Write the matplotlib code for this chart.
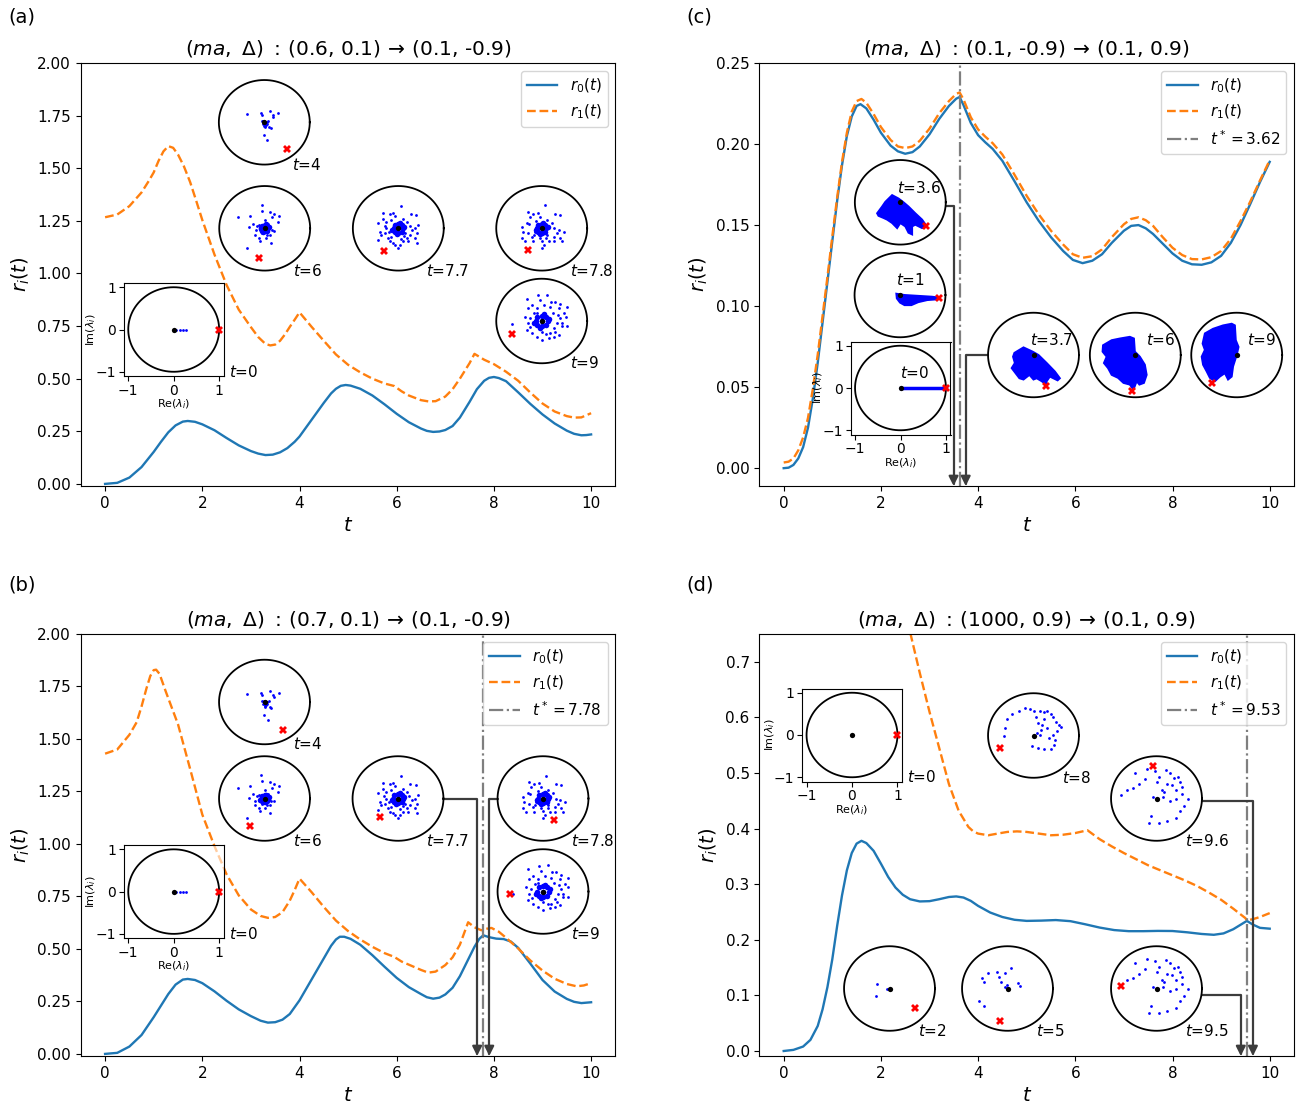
import numpy as np
import matplotlib
matplotlib.use("Agg")
import matplotlib.pyplot as plt

# ---------------- curve data: (t, r) pairs ----------------
a_r0 = [(0, 0), (0.25, 0.005), (0.5, 0.03), (0.75, 0.08), (1.0, 0.152), (1.15, 0.2), (1.3, 0.245), (1.45, 0.278),
        (1.6, 0.296), (1.7, 0.299), (1.85, 0.295), (2.0, 0.283), (2.25, 0.255), (2.5, 0.218), (2.75, 0.183),
        (3.0, 0.156), (3.15, 0.144), (3.3, 0.137), (3.45, 0.139), (3.6, 0.15), (3.75, 0.17), (3.9, 0.2), (4.0, 0.225),
        (4.25, 0.305), (4.5, 0.385), (4.65, 0.43), (4.75, 0.452), (4.85, 0.466), (4.95, 0.47), (5.05, 0.467),
        (5.25, 0.452), (5.5, 0.42), (5.75, 0.378), (6.0, 0.333), (6.25, 0.293), (6.5, 0.263), (6.62, 0.252),
        (6.75, 0.247), (6.88, 0.249), (7.0, 0.256), (7.15, 0.275), (7.3, 0.315), (7.5, 0.39), (7.65, 0.45),
        (7.8, 0.49), (7.9, 0.504), (8.0, 0.508), (8.1, 0.503), (8.25, 0.488), (8.5, 0.435), (8.75, 0.38),
        (9.0, 0.33), (9.25, 0.287), (9.5, 0.253), (9.65, 0.238), (9.8, 0.231), (9.9, 0.232), (10.0, 0.235)]
a_r1 = [(0, 1.267), (0.25, 1.28), (0.5, 1.32), (0.75, 1.385), (0.9, 1.44), (1.0, 1.48), (1.1, 1.535), (1.2, 1.58),
        (1.3, 1.605), (1.4, 1.597), (1.5, 1.565), (1.62, 1.51), (1.75, 1.434), (1.875, 1.345), (2.0, 1.254),
        (2.25, 1.09), (2.5, 0.945), (2.75, 0.828), (3.0, 0.745), (3.15, 0.698), (3.3, 0.665), (3.4, 0.658),
        (3.5, 0.662), (3.6, 0.68), (3.7, 0.71), (3.8, 0.746), (3.9, 0.78), (4.0, 0.815), (4.25, 0.746), (4.5, 0.68),
        (4.75, 0.615), (5.0, 0.566), (5.25, 0.53), (5.5, 0.50), (5.75, 0.477), (5.95, 0.465), (6.1, 0.44),
        (6.25, 0.42), (6.5, 0.398), (6.65, 0.392), (6.8, 0.393), (7.0, 0.415), (7.15, 0.45), (7.3, 0.5),
        (7.5, 0.574), (7.6, 0.618), (7.8, 0.59), (8.0, 0.569), (8.25, 0.533), (8.5, 0.49), (8.75, 0.434),
        (9.0, 0.382), (9.25, 0.344), (9.5, 0.322), (9.65, 0.315), (9.8, 0.316), (10.0, 0.336)]

b_r0 = [(0, 0), (0.25, 0.005), (0.5, 0.035), (0.75, 0.09), (1.0, 0.175), (1.15, 0.23), (1.3, 0.285), (1.45, 0.33),
        (1.6, 0.354), (1.7, 0.357), (1.85, 0.352), (2.0, 0.337), (2.25, 0.298), (2.5, 0.253), (2.75, 0.212),
        (3.0, 0.18), (3.2, 0.158), (3.35, 0.149), (3.5, 0.151), (3.65, 0.163), (3.8, 0.19), (4.0, 0.255),
        (4.25, 0.355), (4.5, 0.455), (4.65, 0.515), (4.75, 0.545), (4.83, 0.558), (4.92, 0.558), (5.05, 0.548),
        (5.25, 0.52), (5.5, 0.47), (5.75, 0.415), (6.0, 0.362), (6.25, 0.318), (6.5, 0.285), (6.62, 0.27),
        (6.75, 0.263), (6.88, 0.268), (7.0, 0.283), (7.15, 0.315), (7.3, 0.37), (7.45, 0.44), (7.6, 0.51),
        (7.7, 0.548), (7.78, 0.565), (7.9, 0.556), (8.05, 0.549), (8.2, 0.547), (8.35, 0.535), (8.5, 0.505),
        (8.75, 0.43), (9.0, 0.352), (9.25, 0.297), (9.5, 0.262), (9.65, 0.248), (9.8, 0.242), (10.0, 0.246)]
b_r1 = [(0, 1.43), (0.25, 1.45), (0.5, 1.52), (0.65, 1.58), (0.75, 1.655), (0.85, 1.74), (0.93, 1.8), (1.0, 1.828),
        (1.05, 1.83), (1.12, 1.81), (1.25, 1.725), (1.5, 1.57), (1.75, 1.357), (2.0, 1.14), (2.25, 0.99),
        (2.5, 0.855), (2.75, 0.755), (3.0, 0.688), (3.2, 0.657), (3.35, 0.648), (3.5, 0.652), (3.65, 0.675),
        (3.8, 0.73), (3.9, 0.78), (4.0, 0.835), (4.25, 0.77), (4.5, 0.70), (4.75, 0.635), (5.0, 0.585),
        (5.25, 0.545), (5.5, 0.51), (5.75, 0.48), (5.95, 0.462), (6.1, 0.44), (6.25, 0.425), (6.5, 0.40),
        (6.65, 0.387), (6.8, 0.392), (7.0, 0.423), (7.15, 0.46), (7.3, 0.52), (7.47, 0.627), (7.6, 0.603),
        (7.74, 0.589), (7.85, 0.596), (7.95, 0.6), (8.1, 0.582), (8.25, 0.553), (8.5, 0.502), (8.75, 0.445),
        (9.0, 0.397), (9.25, 0.358), (9.5, 0.333), (9.7, 0.322), (9.85, 0.326), (10.0, 0.337)]

c_r0 = [(0, 0), (0.1, 0.0003), (0.2, 0.002), (0.3, 0.006), (0.4, 0.013), (0.5, 0.025), (0.6, 0.043), (0.7, 0.065),
        (0.8, 0.09), (0.9, 0.115), (1.0, 0.14), (1.1, 0.165), (1.2, 0.187), (1.3, 0.205), (1.4, 0.217),
        (1.5, 0.2235), (1.58, 0.2246), (1.7, 0.222), (1.85, 0.215), (2.0, 0.207), (2.2, 0.199), (2.35, 0.1955),
        (2.5, 0.194), (2.65, 0.195), (2.8, 0.1985), (3.0, 0.206), (3.2, 0.2155), (3.4, 0.2235), (3.55, 0.228),
        (3.62, 0.229), (3.7, 0.224), (3.85, 0.213), (4.0, 0.2055), (4.15, 0.201), (4.3, 0.197), (4.5, 0.1896),
        (4.75, 0.177), (5.0, 0.164), (5.25, 0.1525), (5.5, 0.1425), (5.75, 0.134), (5.95, 0.1285), (6.15, 0.1265),
        (6.35, 0.128), (6.55, 0.132), (6.75, 0.139), (7.0, 0.1465), (7.15, 0.1495), (7.3, 0.150), (7.45, 0.148),
        (7.6, 0.1445), (7.8, 0.1385), (8.0, 0.1325), (8.2, 0.128), (8.4, 0.1258), (8.6, 0.1255), (8.8, 0.127),
        (9.0, 0.131), (9.2, 0.139), (9.4, 0.15), (9.6, 0.163), (9.8, 0.1765), (10.0, 0.189)]
c_r1 = [(0, 0.0035), (0.1, 0.004), (0.2, 0.006), (0.3, 0.011), (0.4, 0.019), (0.5, 0.031), (0.6, 0.049), (0.7, 0.07),
        (0.8, 0.094), (0.9, 0.118), (1.0, 0.143), (1.1, 0.167), (1.2, 0.189), (1.3, 0.207), (1.4, 0.22),
        (1.5, 0.2265), (1.6, 0.2278), (1.7, 0.2255), (1.85, 0.2185), (2.0, 0.2105), (2.2, 0.2025), (2.35, 0.1985),
        (2.5, 0.1975), (2.65, 0.1985), (2.8, 0.202), (3.0, 0.2095), (3.2, 0.219), (3.4, 0.2265), (3.55, 0.231),
        (3.62, 0.2318), (3.7, 0.2275), (3.85, 0.2165), (4.0, 0.209), (4.15, 0.2045), (4.3, 0.2005), (4.5, 0.1935),
        (4.75, 0.181), (5.0, 0.168), (5.25, 0.1565), (5.5, 0.1465), (5.75, 0.138), (5.95, 0.132), (6.15, 0.1298),
        (6.35, 0.1308), (6.55, 0.135), (6.75, 0.1425), (7.0, 0.1505), (7.15, 0.1538), (7.3, 0.1548), (7.45, 0.153),
        (7.6, 0.1495), (7.8, 0.1425), (8.0, 0.136), (8.2, 0.1315), (8.4, 0.129), (8.6, 0.1288), (8.8, 0.1302),
        (9.0, 0.134), (9.2, 0.1415), (9.4, 0.1525), (9.6, 0.1645), (9.8, 0.1775), (10.0, 0.19)]

d_r0 = [(0, 0), (0.2, 0.002), (0.4, 0.008), (0.55, 0.02), (0.7, 0.045), (0.8, 0.075), (0.9, 0.115), (1.0, 0.165),
        (1.1, 0.225), (1.2, 0.28), (1.3, 0.325), (1.4, 0.356), (1.5, 0.373), (1.6, 0.378), (1.7, 0.374),
        (1.85, 0.36), (2.0, 0.337), (2.15, 0.313), (2.3, 0.294), (2.45, 0.281), (2.6, 0.273), (2.8, 0.269),
        (3.0, 0.2695), (3.2, 0.273), (3.4, 0.277), (3.55, 0.278), (3.7, 0.276), (3.85, 0.27), (4.0, 0.261),
        (4.25, 0.249), (4.5, 0.241), (4.75, 0.236), (5.0, 0.234), (5.3, 0.2345), (5.6, 0.2355), (5.9, 0.2335),
        (6.2, 0.228), (6.5, 0.222), (6.8, 0.2175), (7.1, 0.2155), (7.4, 0.2155), (7.7, 0.216), (8.0, 0.2158),
        (8.3, 0.2135), (8.6, 0.2105), (8.85, 0.209), (9.05, 0.2115), (9.25, 0.219), (9.4, 0.227), (9.53, 0.234),
        (9.65, 0.2275), (9.8, 0.2215), (10.0, 0.22)]
d_r1 = [(2.4, 0.84), (2.61, 0.75), (2.8, 0.68), (3.0, 0.61), (3.2, 0.545), (3.4, 0.48), (3.6, 0.432), (3.8, 0.403),
        (3.9, 0.395), (4.0, 0.391), (4.21, 0.388), (4.4, 0.391), (4.6, 0.394), (4.8, 0.395), (5.0, 0.394),
        (5.25, 0.391), (5.5, 0.388), (5.75, 0.389), (6.0, 0.392), (6.25, 0.397), (6.5, 0.381), (6.75, 0.368),
        (7.0, 0.356), (7.25, 0.345), (7.5, 0.334), (7.75, 0.325), (8.0, 0.316), (8.25, 0.307), (8.5, 0.297),
        (8.75, 0.285), (9.0, 0.272), (9.25, 0.256), (9.5, 0.239), (9.53, 0.235), (9.65, 0.237), (9.8, 0.241),
        (10.0, 0.248)]

tstar_b, tstar_c, tstar_d = 7.78, 3.62, 9.53

params = [("0.6, 0.1", "0.1, -0.9"), ("0.7, 0.1", "0.1, -0.9"), ("0.1, -0.9", "0.1, 0.9"), ("1000, 0.9", "0.1, 0.9")]

# ---------------- eigenvalue snapshots (inset data) ----------------
T0_X = [0.05, 0.14, 0.21, 0.27]
T0_Y = [0.0, 0.0, 0.0, 0.0]
CORE_X = [0.08, -0.08, 0.0, 0.0, 0.06, -0.06, 0.06, -0.06, 0.1, -0.1, 0.03, -0.03, 0.0]
CORE_Y = [0.0, 0.0, 0.08, -0.08, 0.06, 0.06, -0.06, -0.06, 0.03, -0.03, 0.1, -0.1, 0.0]

A4_X = [-0.39, -0.08, -0.06, 0.13, 0.19, 0.20, 0.31, -0.01, 0.07, 0.11, 0.15, 0.04, -0.02, 0.05, 0.02, -0.03, 0.09,
        -0.05, 0.05, 0.0, 0.02, 0.0, 0.04]
A4_Y = [0.19, 0.22, 0.17, 0.27, 0.17, 0.12, 0.21, -0.30, -0.43, -0.12, -0.14, -0.06, 0.03, -0.05, -0.09, -0.05, 0.03,
        0.02, 0.0, -0.08, -0.12, 0.03, -0.05]
A6_X = [-0.58, -0.32, -0.07, -0.06, 0.11, 0.20, 0.31, 0.29, 0.16, -0.26, -0.35, -0.39, -0.21, -0.12, 0.02, 0.13, 0.20,
        0.11, -0.17, -0.10, 0.05, -0.05, 0.08, -0.12, 0.0, 0.15, -0.20]
A6_Y = [0.26, 0.30, 0.56, 0.42, 0.38, 0.35, 0.30, 0.16, 0.26, 0.10, 0.02, -0.47, -0.15, -0.23, -0.23, -0.35, -0.06,
        -0.15, 0.06, -0.30, -0.15, -0.12, 0.10, 0.08, 0.20, -0.05, -0.05]
A77_X = [0.06, -0.33, -0.18, -0.11, -0.07, 0.27, 0.39, -0.44, -0.33, -0.26, -0.40, -0.44, -0.37, -0.29, -0.22, -0.18,
         -0.11, -0.07, 0.0, 0.04, 0.11, 0.19, 0.26, 0.30, 0.37, 0.44, 0.41, 0.37, 0.42, 0.22, 0.15, -0.26, -0.20,
         -0.15, 0.10, 0.20, -0.15, 0.12, 0.25, -0.30, 0.05]
A77_Y = [0.53, 0.37, 0.35, 0.36, 0.29, 0.35, 0.31, 0.12, 0.23, 0.15, -0.08, -0.27, -0.16, -0.12, -0.23, -0.31, -0.35,
         -0.39, -0.47, -0.39, -0.31, -0.23, -0.16, -0.04, 0.0, 0.08, -0.12, -0.23, -0.34, -0.31, -0.12, 0.0, -0.08,
         0.20, 0.22, 0.15, -0.20, -0.18, 0.05, 0.05, -0.25]
A78_X = [0.07, -0.30, -0.19, -0.08, -0.04, -0.26, 0.29, 0.40, -0.44, -0.33, -0.41, -0.44, -0.37, -0.22, -0.19, -0.04,
         0.0, 0.04, 0.15, 0.26, 0.33, 0.37, 0.48, 0.40, 0.44, 0.26, 0.11, -0.30, -0.15, -0.12, 0.12, 0.22, -0.18,
         0.10, 0.28, -0.28, 0.0]
A78_Y = [0.54, 0.39, 0.35, 0.36, 0.27, 0.27, 0.35, 0.31, 0.04, 0.12, -0.08, -0.23, -0.31, -0.20, -0.31, -0.23, -0.47,
         -0.39, -0.31, -0.20, -0.12, -0.04, -0.08, -0.23, -0.31, -0.31, -0.16, -0.12, -0.08, 0.18, 0.20, 0.12,
         -0.15, -0.22, 0.0, 0.10, -0.30]
A9_X = [-0.33, -0.08, 0.11, 0.29, 0.40, -0.04, -0.22, -0.11, 0.04, 0.18, 0.37, 0.55, 0.48, 0.54, 0.40, 0.33, 0.44,
        0.55, 0.26, 0.18, 0.15, 0.0, -0.11, -0.22, -0.33, -0.30, -0.37, -0.18, -0.26, -0.66, 0.37, 0.26, 0.25, -0.10,
        0.30, -0.25, 0.10, 0.35, -0.30, 0.20, 0.0, 0.45]
A9_Y = [0.53, 0.61, 0.62, 0.45, 0.40, 0.49, 0.37, 0.30, 0.37, 0.33, 0.30, 0.33, 0.18, 0.10, 0.06, -0.05, -0.13, -0.13,
        -0.17, -0.29, -0.40, -0.44, -0.37, -0.29, -0.21, -0.05, 0.10, 0.18, 0.06, -0.07, -0.33, -0.37, 0.20, 0.20,
        -0.25, -0.15, -0.30, 0.15, 0.30, 0.45, -0.25, -0.05]

D2_X = [-0.28, -0.30, -0.05]
D2_Y = [0.11, -0.18, 0.0]
D5_X = [-0.56, -0.52, -0.42, -0.24, -0.19, -0.06, 0.08, -0.15, -0.01, -0.06, 0.22, 0.27, -0.63, -0.52]
D5_Y = [0.24, 0.16, 0.36, 0.40, 0.28, 0.36, 0.49, 0.16, 0.09, 0.04, 0.12, 0.06, -0.29, -0.41]
D8_X = [-0.65, -0.62, -0.59, -0.47, -0.31, -0.18, -0.08, 0.01, 0.15, 0.24, 0.30, 0.38, 0.42, 0.49, 0.56, 0.61, 0.52,
        0.42, 0.47, 0.45, 0.38, 0.24, 0.10, -0.04, 0.19, 0.10, 0.17, 0.08, 0.24, 0.06, 0.29, 0.15, 0.33]
D8_Y = [-0.02, 0.18, 0.39, 0.51, 0.59, 0.65, 0.63, 0.57, 0.59, 0.55, 0.57, 0.51, 0.43, 0.33, 0.26, 0.20, 0.10, 0.02,
        -0.10, -0.22, -0.31, -0.32, -0.29, -0.24, 0.26, 0.30, 0.14, 0.06, 0.39, 0.43, 0.18, 0.02, -0.06]
D96_X = [-0.79, -0.66, -0.52, -0.38, -0.26, -0.47, -0.22, -0.03, 0.06, 0.20, 0.29, 0.38, 0.47, 0.52, 0.56, 0.43, 0.34,
         0.24, 0.13, 0.01, 0.15, 0.29, 0.43, 0.56, 0.70, 0.61, 0.52, 0.43, 0.24, 0.06, -0.12, -0.17, -0.08, 0.17]
D96_Y = [0.09, 0.19, 0.26, 0.35, 0.45, 0.60, 0.70, 0.64, 0.52, 0.68, 0.60, 0.48, 0.52, 0.40, 0.27, 0.19, 0.31, 0.35,
         0.19, 0.40, 0.03, -0.05, -0.01, 0.11, -0.01, -0.18, -0.30, -0.46, -0.54, -0.58, -0.42, -0.58, 0.03, 0.15]

B1_X = [-0.08, 0.1, 0.4, 0.7, 0.86, 0.85, 0.6, 0.4, 0.25, 0.1, 0.0, -0.07]
B1_Y = [0.03, 0.0, -0.02, -0.04, -0.06, -0.1, -0.12, -0.17, -0.24, -0.24, -0.18, -0.08]
B36_X = [-0.51, -0.40, -0.33, -0.18, -0.04, 0.06, 0.18, 0.33, 0.48, 0.57, 0.48, 0.33, 0.26, 0.26, 0.18, 0.11, 0.0,
         -0.07, -0.18, -0.29, -0.37, -0.48]
B36_Y = [-0.26, -0.10, 0.01, 0.17, 0.09, 0.01, -0.10, -0.26, -0.41, -0.55, -0.61, -0.53, -0.57, -0.76, -0.72, -0.57,
         -0.49, -0.61, -0.49, -0.41, -0.37, -0.32]
B37_X = [-0.42, -0.22, -0.02, 0.11, 0.29, 0.47, 0.58, 0.53, 0.36, 0.29, 0.28, 0.18, 0.07, 0.0, -0.09, -0.22, -0.31,
         -0.48, -0.41, -0.45]
B37_Y = [0.05, 0.18, 0.08, 0.0, -0.19, -0.39, -0.55, -0.6, -0.51, -0.62, -0.7, -0.62, -0.55, -0.58, -0.47, -0.58,
         -0.55, -0.31, -0.19, -0.04]
B6_X = [-0.71, -0.52, -0.34, -0.12, -0.03, -0.01, 0.10, 0.21, 0.25, 0.19, 0.09, 0.03, -0.04, -0.12, -0.26, -0.38,
        -0.52, -0.60, -0.69, -0.63, -0.72]
B6_Y = [0.23, 0.35, 0.39, 0.43, 0.39, 0.08, -0.04, -0.23, -0.47, -0.66, -0.70, -0.62, -0.82, -0.70, -0.66, -0.54,
        -0.47, -0.31, -0.19, -0.04, 0.08]
B9_X = [-0.70, -0.52, -0.30, -0.11, -0.04, -0.02, 0.04, 0.0, -0.08, -0.11, -0.19, -0.26, -0.37, -0.48, -0.59, -0.66,
        -0.74, -0.77, -0.70, -0.75]
B9_Y = [0.51, 0.62, 0.70, 0.74, 0.70, 0.35, 0.19, 0.0, -0.27, -0.51, -0.58, -0.43, -0.51, -0.62, -0.54, -0.39, -0.23,
        -0.04, 0.12, 0.27]

# ---------------- figure ----------------
W, H = 1305, 1107
fig = plt.figure(figsize=(W / 100, H / 100), dpi=100)
TH = np.linspace(0, 2 * np.pi, 300)


def rect_px(x0, y0, x1, y1):
    return [x0 / W, 1 - y1 / H, (x1 - x0) / W, (y1 - y0) / H]


def make_title(p):
    return r"$(ma,\ \Delta)\ :\,$(" + p[0] + r")$\,\rightarrow\,$(" + p[1] + ")"


def main_axes(box, p, s0, s1, ylim, tstar=None):
    ax = fig.add_axes(rect_px(*box))
    t0, r0 = zip(*s0)
    t1, r1 = zip(*s1)
    ax.plot(t0, r0, color="C0", lw=1.7, label=r"$r_0(t)$")
    ax.plot(t1, r1, color="C1", lw=1.7, ls="--", label=r"$r_1(t)$")
    if tstar is not None:
        ax.axvline(tstar, color="C7", ls="-.", lw=1.6, label=r"$t^* = %.2f$" % tstar)
    ax.set_xlim(-0.5, 10.5)
    ax.set_ylim(*ylim)
    ax.set_xlabel(r"$t$", fontsize=14)
    ax.set_ylabel(r"$r_i(t)$", fontsize=14)
    ax.set_title(make_title(p), fontsize=14.5)
    ax.tick_params(labelsize=11)
    ax.legend(loc="upper right", fontsize=11)
    return ax


def inset(c, label, lpos, red, pts=None, core=None, blob=None, seg=False, framed=False):
    cx, cy = c
    ia = fig.add_axes(rect_px(cx - 50, cy - 46.5, cx + 50, cy + 46.5))
    ia.set_xlim(-1.1, 1.1)
    ia.set_ylim(-1.1, 1.1)
    ia.plot(np.cos(TH), np.sin(TH), color="k", lw=1.3)
    if blob is not None:
        ia.fill(blob[0], blob[1], color="blue", lw=1.4)
    if seg:
        ia.plot([0, 1], [0, 0], color="blue", lw=2.5)
    if pts is not None:
        ia.plot(pts[0], pts[1], "o", color="blue", ms=2.0, mew=0)
    if core is not None:
        ia.plot(np.array(CORE_X) * core, np.array(CORE_Y) * core, "o", color="blue", ms=4.0, mew=0)
    ia.plot([0], [0], "o", color="k", ms=3.8, mew=0)
    ia.plot([red[0]], [red[1]], "X", color="red", ms=6, mew=0, clip_on=False)
    ia.text(lpos[0], lpos[1], label, fontsize=11, ha="left", va="center")
    if framed:
        ia.patch.set_facecolor((1, 1, 1, 0.6))
        ia.set_xticks([-1, 0, 1])
        ia.set_yticks([-1, 0, 1])
        ia.tick_params(labelsize=10, pad=2)
        ia.set_xlabel(r"Re($\lambda_i$)", fontsize=8, labelpad=0)
        ia.set_ylabel(r"Im($\lambda_i$)", fontsize=8, labelpad=-2)
    else:
        ia.axis("off")
    return ia


def connector(ax, ia, start, tx):
    ax.annotate("", xy=(tx, 0), xycoords=("data", "axes fraction"),
                xytext=start, textcoords=ia.transData,
                arrowprops=dict(arrowstyle="-|>", color="#3c3c3c", lw=1.6, shrinkA=0, shrinkB=0,
                                mutation_scale=14, connectionstyle="angle,angleA=0,angleB=90,rad=0"),
                annotation_clip=False)


DX = 0.125

# ---- panel (a)
axA = main_axes((80.8, 63, 615.4, 486), params[0], a_r0, a_r1, (-0.01, 2.0))
inset((264.3, 122.3), r"$t$=4", (0.62, -1.0), (0.51, -0.62), (A4_X, A4_Y), None)
inset((264.7, 228.3), r"$t$=6", (0.62, -1.0), (-0.12, -0.71), (A6_X, A6_Y), 0.9)
inset((398.3, 228.3), r"$t$=7.7", (0.62, -1.0), (-0.31, -0.53), (A77_X, A77_Y), 1.3)
inset((541.7, 228.3), r"$t$=7.8", (0.62, -1.0), (-0.31, -0.51), (A78_X, A78_Y), 1.3)
inset((541.7, 321.0), r"$t$=9", (0.62, -1.0), (-0.65, -0.31), (A9_X, A9_Y), 1.6)
inset((173.7, 329.5), r"$t$=0", (1.22, -1.0), (1.0, 0.0), (T0_X, T0_Y), None, framed=True)

# ---- panel (b)
axB = main_axes((80.8, 634, 615.4, 1056), params[1], b_r0, b_r1, (-0.01, 2.0), tstar_b)
inset((264.5, 702.0), r"$t$=4", (0.62, -1.0), (0.41, -0.67), (A4_X, A4_Y), None)
inset((264.5, 798.5), r"$t$=6", (0.62, -1.0), (-0.31, -0.64), (A6_X, A6_Y), 0.9)
ib77 = inset((398.0, 798.5), r"$t$=7.7", (0.62, -1.0), (-0.39, -0.44), (A77_X, A77_Y), 1.3)
ib78 = inset((543.0, 798.5), r"$t$=7.8", (0.62, -1.0), (0.25, -0.50), (A78_X, A78_Y), 1.3)
inset((543.0, 891.5), r"$t$=9", (0.62, -1.0), (-0.72, -0.06), (A9_X, A9_Y), 1.6)
inset((173.7, 891.6), r"$t$=0", (1.22, -1.0), (1.0, 0.0), (T0_X, T0_Y), None, framed=True)
connector(axB, ib77, (1.0, 0.0), tstar_b - DX)
connector(axB, ib78, (-1.0, 0.0), tstar_b + DX)

# ---- panel (c)
axC = main_axes((759.4, 63, 1294.0, 486), params[2], c_r0, c_r1, (-0.011, 0.25), tstar_c)
ic36 = inset((900.3, 202.3), r"$t$=3.6", (-0.08, 0.35), (0.57, -0.57), blob=(B36_X, B36_Y))
inset((900.0, 295.0), r"$t$=1", (-0.09, 0.35), (0.86, -0.08), blob=(B1_X, B1_Y))
inset((900.5, 388.0), r"$t$=0", (0.0, 0.35), (1.0, 0.0), seg=True, framed=True)
ic37 = inset((1033.5, 355.0), r"$t$=3.7", (-0.08, 0.35), (0.28, -0.74), blob=(B37_X, B37_Y))
inset((1135.3, 355.0), r"$t$=6", (0.23, 0.35), (-0.07, -0.86), blob=(B6_X, B6_Y))
inset((1236.7, 355.0), r"$t$=9", (0.22, 0.35), (-0.54, -0.66), blob=(B9_X, B9_Y))
connector(axC, ic36, (1.0, -0.08), tstar_c - DX)
connector(axC, ic37, (-1.0, 0.0), tstar_c + DX)

# ---- panel (d)
axD = main_axes((759.4, 634, 1294.0, 1056), params[3], d_r0, d_r1, (-0.009, 0.75), tstar_d)
inset((852.0, 735.0), r"$t$=0", (1.22, -1.0), (1.0, 0.0), framed=True)
inset((1033.5, 735.5), r"$t$=8", (0.62, -1.0), (-0.74, -0.29), (D8_X, D8_Y))
id96 = inset((1156.5, 798.5), r"$t$=9.6", (0.62, -1.0), (-0.07, 0.78), (D96_X, D96_Y))
inset((889.5, 988.5), r"$t$=2", (0.62, -1.0), (0.55, -0.46), (D2_X, D2_Y))
inset((1007.5, 988.5), r"$t$=5", (0.62, -1.0), (-0.17, -0.77), (D5_X, D5_Y))
id95 = inset((1156.5, 988.5), r"$t$=9.5", (0.62, -1.0), (-0.79, 0.07), (D96_X[1:], D96_Y[1:]))
connector(axD, id95, (0.99, -0.15), tstar_d - DX)
connector(axD, id96, (1.0, -0.05), tstar_d + DX)

# panel letters
for lab, x, y in [("(a)", 8, 17), ("(b)", 8, 585), ("(c)", 686, 17), ("(d)", 686, 585)]:
    fig.text(x / W, 1 - y / H, lab, fontsize=14, ha="left", va="center")

fig.savefig("out.png", dpi=100)
